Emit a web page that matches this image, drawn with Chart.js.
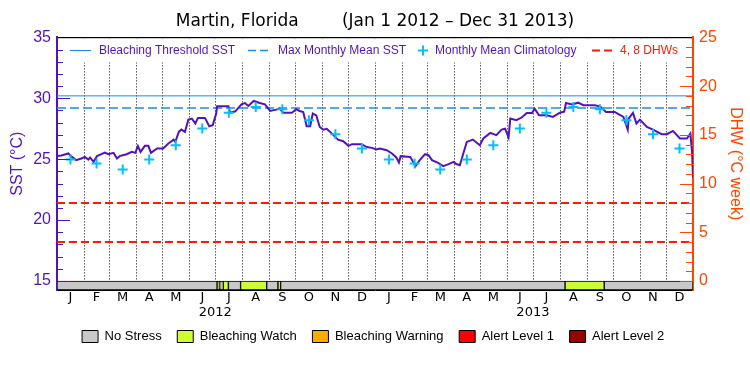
<!DOCTYPE html>
<html>
<head>
<meta charset="utf-8">
<title>Martin, Florida SST 2012-2013</title>
<script src="https://cdn.jsdelivr.net/npm/chart.js@4.4.1/dist/chart.umd.min.js"></script>
<style>
  html, body { margin: 0; padding: 0; background: #fff; }
</style>
</head>
<body>
<canvas id="chart" width="750" height="375"></canvas>
<script>
// daily SST, day index counted from Jan 1 2012
const sstDays = [
  0, 5, 13, 17, 22, 28, 32, 36, 38, 42,
  46, 51, 55, 59, 65, 69, 72, 80, 86, 90,
  93, 96, 101, 105, 108, 115, 122, 128, 134, 136,
  140, 143, 147, 151, 155, 159, 162, 170, 175, 179,
  183, 184, 197, 199, 205, 212, 216, 220, 226, 233,
  239, 245, 252, 256, 260, 270, 275, 279, 283, 287,
  291, 294, 298, 302, 306, 310, 316, 323, 329, 335,
  339, 350, 356, 362, 367, 371, 379, 385, 390, 393,
  395, 406, 412, 417, 423, 427, 431, 438, 444, 450,
  456, 459, 463, 467, 471, 478, 486, 490, 498, 505,
  511, 515, 519, 521, 528, 534, 540, 546, 549, 554,
  563, 570, 578, 583, 585, 592, 599, 605, 618, 624,
  631, 641, 651, 656, 657, 662, 666, 670, 678, 685,
  695, 701, 708, 716, 724, 728, 730, 731
];
const sstValues = [
  25.27, 25.3, 25.47, 25.19, 24.92, 25.06, 25.19, 24.97, 25.14, 24.78,
  25.25, 25.41, 25.55, 25.41, 25.52, 25.06, 25.25, 25.41, 25.6, 25.52,
  26.07, 25.6, 26.1, 26.1, 25.52, 25.88, 25.88, 26.29, 26.61, 26.42,
  27.24, 27.43, 27.24, 28.25, 28.33, 27.93, 28.39, 28.39, 27.7, 27.79,
  28.75, 29.34, 29.34, 28.82, 28.93, 29.5, 29.61, 29.37, 29.78, 29.61,
  29.5, 28.96, 29.07, 29.15, 28.82, 28.82, 29.1, 28.96, 28.88, 27.7,
  27.7, 28.75, 28.6, 27.65, 27.43, 27.5, 27.1, 26.6, 26.48, 26.1,
  26.23, 26.23, 26.0, 25.93, 25.8, 25.88, 25.74, 25.47, 25.14, 24.73,
  25.25, 25.19, 24.43, 24.92, 25.41, 25.33, 24.92, 24.7, 24.43, 24.59,
  24.78, 24.6, 24.51, 25.47, 26.42, 26.61, 26.15, 26.7, 27.16, 26.97,
  27.43, 27.5, 26.78, 28.33, 28.2, 28.42, 28.8, 28.8, 29.15, 28.6,
  28.6, 28.47, 28.82, 28.9, 29.61, 29.5, 29.64, 29.43, 29.43, 29.34,
  28.88, 28.88, 28.47, 27.43, 28.33, 28.8, 27.93, 28.25, 27.65, 27.43,
  27.05, 27.05, 27.32, 26.7, 26.7, 27.1, 25.5, 23.5
];

// monthly mean climatology (same for both years)
const monthLetters = ['J', 'F', 'M', 'A', 'M', 'J', 'J', 'A', 'S', 'O', 'N', 'D'];
const climValues = [24.97, 24.65, 24.16, 24.97, 26.15, 27.52, 28.82, 29.29, 29.1, 28.2, 27.05, 25.88];
const years = [2012, 2013];

const thresholdSST = 30.2;
const mmmSST = 29.2;
const dhwLevels = [4, 8];

// stress level band: segment edges (days) and level of each segment
const stressBounds = [0, 184, 186.5, 188.5, 190, 191, 197, 211, 241, 254, 257, 584, 629, 731];
const stressLevels = [0, 1, 0, 1, 0, 1, 0, 1, 0, 1, 0, 1, 0];
const stressNames = ['No Stress', 'Bleaching Watch', 'Bleaching Warning', 'Alert Level 1', 'Alert Level 2'];
const stressColors = ['#c8c8c8', '#ccff33', '#ffaa00', '#ff0000', '#990000'];

const sstTicks = [15, 20, 25, 30, 35];
const dhwTicks = [0, 5, 10, 15, 20, 25];

const PURPLE = '#5014be';
const ORANGE = '#ff4500';
const RED = '#ff1a00';
const BLUE = '#1e8ce6';
const CYAN = '#00c0ff';

// axis geometry: the stress band sits below 15 degC / 0 DHW
const Y_MIN = 14.26, Y_MAX = 35;
const Y2_MIN = (Y_MIN - 15) * 1.25, Y2_MAX = 25;
const STRESS_Y = (Y_MIN + 15) / 2;

// month boundaries as day numbers
const DAY = 864e5, T0 = Date.UTC(2012, 0, 1);
const dayOf = (y, m) => (Date.UTC(y, m, 1) - T0) / DAY;
const monthStarts = [];
years.forEach(y => { for (let m = 0; m < 12; m++) monthStarts.push(dayOf(y, m)); });
const X_MAX = dayOf(years[1] + 1, 0);
const monthMids = monthStarts.map((s, i) => (s + (i + 1 < monthStarts.length ? monthStarts[i + 1] : X_MAX)) / 2);
const yearTicks = years.map(y => dayOf(y, 6));

const climPoints = [];
years.forEach((y, yi) => climValues.forEach((v, m) => climPoints.push({ x: monthMids[yi * 12 + m], y: v })));

const flat = (v) => [{ x: 0, y: v }, { x: X_MAX, y: v }];

// dotted month lines on the x ticks, then the legend box inside the top of the plot
const topLegend = {
  id: 'topLegend',
  beforeDatasetsDraw(chart) {
    const { ctx, chartArea: a, scales } = chart;
    ctx.save();
    ctx.strokeStyle = '#000';
    ctx.lineWidth = 1;
    ctx.setLineDash([1, 2]);
    scales.x.ticks.forEach(t => {
      const px = Math.round(scales.x.getPixelForValue(t.value)) + 0.5;
      ctx.beginPath();
      ctx.moveTo(px, a.top + 1);
      ctx.lineTo(px, a.bottom);
      ctx.stroke();
    });

    ctx.fillStyle = '#fff';
    ctx.fillRect(a.left + 1.5, a.top + 1, a.right - a.left - 3, 24);
    const y = Math.round(a.top + 13) + 0.5;
    ctx.font = '12px "Liberation Sans"';
    ctx.textBaseline = 'middle';
    const seg = (x1, x2, color, width, dash) => {
      ctx.beginPath();
      ctx.setLineDash(dash);
      ctx.strokeStyle = color;
      ctx.lineWidth = width;
      ctx.moveTo(x1, y);
      ctx.lineTo(x2, y);
      ctx.stroke();
    };
    seg(70, 91, BLUE, 1, []);
    ctx.fillStyle = PURPLE;
    ctx.fillText('Bleaching Threshold SST', 99, y);
    seg(248, 272, BLUE, 1.5, [8, 4]);
    ctx.fillText('Max Monthly Mean SST', 278, y);
    ctx.setLineDash([]);
    ctx.strokeStyle = CYAN;
    ctx.lineWidth = 2;
    ctx.beginPath();
    ctx.moveTo(418, y); ctx.lineTo(428, y);
    ctx.moveTo(423, y - 5); ctx.lineTo(423, y + 5);
    ctx.stroke();
    ctx.fillText('Monthly Mean Climatology', 435, y);
    seg(592, 613, RED, 2, [8, 4]);
    ctx.fillStyle = RED;
    ctx.fillText('4, 8 DHWs', 620, y);
    ctx.restore();
  }
};

// tick marks pointing into the plot on both y axes
const innerTicks = {
  id: 'innerTicks',
  afterDraw(chart) {
    const { ctx, chartArea: a, scales } = chart;
    ctx.save();
    ctx.lineWidth = 1;
    const tick = (x, p, len, color) => {
      ctx.strokeStyle = color;
      ctx.beginPath();
      ctx.moveTo(x, p);
      ctx.lineTo(x + len, p);
      ctx.stroke();
    };
    for (let v = sstTicks[0]; v < Y_MAX; v++) {
      tick(a.left, Math.round(scales.y.getPixelForValue(v)) + 0.5, v % 5 ? 6 : 13, PURPLE);
    }
    for (let v = dhwTicks[0]; v < Y2_MAX; v++) {
      tick(a.right, Math.round(scales.y2.getPixelForValue(v)) + 0.5, v % 5 ? -7 : -13, ORANGE);
    }
    ctx.restore();
  }
};

const labelAxis = (tickValues, height, label) => ({
  type: 'linear',
  axis: 'x',
  position: 'bottom',
  min: 0,
  max: X_MAX,
  afterBuildTicks: s => { s.ticks = tickValues.map(v => ({ value: v })); },
  afterFit: s => { s.height = height; },
  ticks: {
    autoSkip: false,
    maxRotation: 0,
    minRotation: 0,
    padding: 0,
    color: '#000',
    font: { family: 'DejaVu Sans', size: 13 },
    callback: (v, i) => label(i)
  },
  grid: { display: false, drawTicks: false },
  border: { display: false }
});

new Chart(document.getElementById('chart'), {
  type: 'line',
  data: {
    datasets: [
      {
        label: 'Monthly Mean Climatology',
        data: climPoints,
        showLine: false,
        pointStyle: 'cross',
        pointRadius: 5,
        pointBorderWidth: 2,
        borderColor: CYAN,
        backgroundColor: CYAN
      },
      {
        label: 'SST',
        data: sstDays.map((d, i) => ({ x: d, y: sstValues[i] })),
        borderColor: PURPLE,
        borderWidth: 2,
        pointRadius: 0,
        tension: 0
      },
      {
        label: 'Bleaching Threshold SST',
        data: flat(thresholdSST),
        borderColor: BLUE,
        borderWidth: 1,
        pointRadius: 0
      },
      {
        label: 'Max Monthly Mean SST',
        data: flat(mmmSST),
        borderColor: BLUE,
        borderWidth: 1.5,
        borderDash: [9, 4],
        pointRadius: 0
      },
      ...dhwLevels.map(v => ({
        label: v + ' DHW',
        yAxisID: 'y2',
        data: flat(v),
        borderColor: RED,
        borderWidth: 2,
        borderDash: [8, 4],
        pointRadius: 0
      })),
      {
        type: 'bar',
        label: 'Stress level',
        indexAxis: 'y',
        xAxisID: 'x',
        yAxisID: 'y',
        data: stressLevels.map((l, i) => ({ x: [stressBounds[i], stressBounds[i + 1]], y: STRESS_Y })),
        backgroundColor: stressLevels.map(l => stressColors[l]),
        borderColor: '#000',
        borderWidth: 1,
        borderSkipped: false,
        barThickness: 9
      }
    ]
  },
  options: {
    responsive: false,
    animation: false,
    layout: { padding: { left: 0, right: 0, top: 0, bottom: 22 } },
    plugins: {
      tooltip: { enabled: false },
      title: {
        display: true,
        text: 'Martin, Florida        (Jan 1 2012 \u2013 Dec 31 2013)',
        color: '#000',
        font: { family: 'DejaVu Sans', size: 17, weight: 'normal' },
        padding: { top: 11, bottom: 6 }
      },
      legend: {
        position: 'bottom',
        onClick: null,
        labels: {
          boxWidth: 16,
          boxHeight: 12,
          padding: 12,
          color: '#000',
          font: { family: 'Liberation Sans', size: 13 },
          generateLabels: () => stressNames.map((name, i) => ({
            text: name + ' ',
            fillStyle: stressColors[i],
            strokeStyle: '#000',
            lineWidth: 1,
            hidden: false,
            index: i
          }))
        }
      }
    },
    scales: {
      // month boundaries (dotted lines drawn by the plugin from these ticks)
      x: {
        type: 'linear',
        position: 'bottom',
        min: 0,
        max: X_MAX,
        offset: false,
        afterBuildTicks: s => { s.ticks = monthStarts.filter(v => v > 0).map(v => ({ value: v })); },
        afterFit: s => { s.height = 0; },
        ticks: { display: false },
        grid: { display: false, drawTicks: false },
        border: { color: '#000', width: 1 }
      },
      xMonth: labelAxis(monthMids, 15, i => monthLetters[i % 12]),
      xYear: labelAxis(yearTicks, 13, i => String(years[i])),
      xTop: {
        type: 'linear',
        axis: 'x',
        position: 'top',
        min: 0,
        max: X_MAX,
        afterFit: s => { s.height = 0; },
        ticks: { display: false },
        grid: { display: false, drawTicks: false },
        border: { color: '#000', width: 1.5 }
      },
      y: {
        type: 'linear',
        position: 'left',
        min: Y_MIN,
        max: Y_MAX,
        offset: false,
        afterBuildTicks: s => { s.ticks = sstTicks.map(v => ({ value: v })); },
        afterFit: s => { s.width = 57; },
        ticks: {
          padding: 6,
          color: PURPLE,
          font: { family: 'Liberation Sans', size: 16 }
        },
        grid: { display: false, drawTicks: false, offset: false },
        border: { color: PURPLE, width: 2 },
        title: {
          display: true,
          text: 'SST (\u00b0C)',
          color: PURPLE,
          font: { family: 'Liberation Sans', size: 16 },
          padding: { top: 8, bottom: 0 }
        }
      },
      y2: {
        type: 'linear',
        position: 'right',
        min: Y2_MIN,
        max: Y2_MAX,
        offset: false,
        afterBuildTicks: s => { s.ticks = dhwTicks.map(v => ({ value: v })); },
        afterFit: s => { s.width = 57; },
        ticks: {
          padding: 6,
          color: ORANGE,
          font: { family: 'Liberation Sans', size: 16 }
        },
        grid: { display: false, drawTicks: false },
        border: { color: ORANGE, width: 2 },
        title: {
          display: true,
          text: 'DHW (\u00b0C week)',
          color: ORANGE,
          font: { family: 'Liberation Sans', size: 16 },
          padding: { top: 5, bottom: 0 }
        }
      }
    }
  },
  plugins: [topLegend, innerTicks]
});
</script>
</body>
</html>
